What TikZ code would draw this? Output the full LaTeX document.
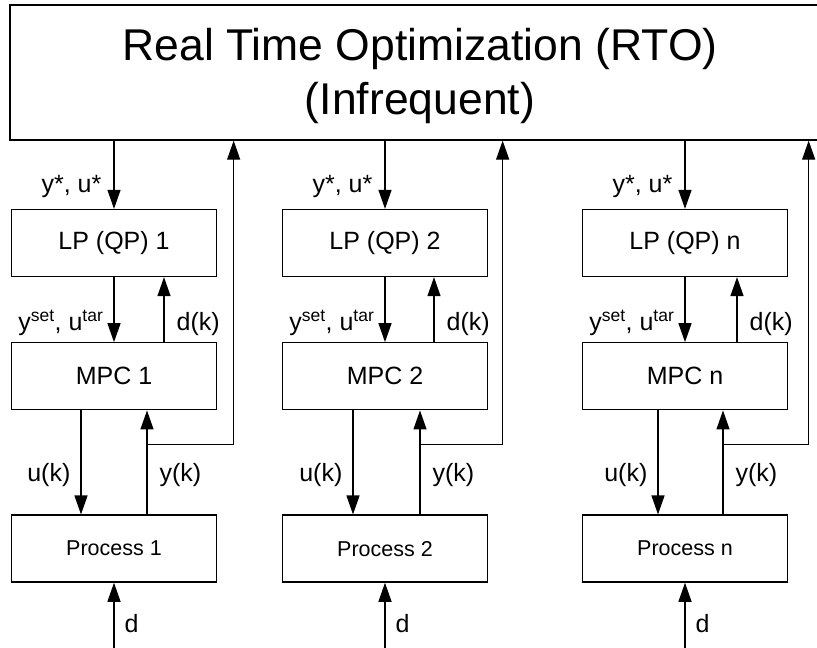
\documentclass[tikz,border=0pt]{standalone}
\usepackage{fontspec}
\setmainfont{Liberation Sans}
\usetikzlibrary{arrows.meta,positioning}

\tikzset{
  block/.style={draw, rectangle, minimum width=205pt, minimum height=67pt, inner sep=0pt,
    font=\fontsize{25}{25}\selectfont},
  lbl/.style={inner sep=0pt, font=\fontsize{25}{25}\selectfont},
}

\begin{document}
\begin{tikzpicture}[>={Triangle[length=19pt,width=13pt]}, x=1pt, y=-1pt, line width=1.3pt]
  \useasboundingbox (0,0) rectangle (817,648);
  \node[block, minimum width=820pt, minimum height=135pt, align=center,
    font=\fontsize{44.5}{54}\selectfont] (rto) at (420,72.5)
    {\rule{0pt}{40pt}Real Time Optimization (RTO)\\(Infrequent)};

  % column 1
  \node[block] (lp1) at (114,243) {LP (QP) 1};
  \node[block] (mpc1) [below=65pt of lp1] {MPC 1};
  \node[block, font=\fontsize{21.5}{21.5}\selectfont] (proc1) [below=104pt of mpc1] {Process 1};
  \coordinate (br1) at ([xshift=33pt,yshift=-34pt]mpc1.south);
  \coordinate (top1) at ([xshift=16.5pt]lp1.east);
  \coordinate (in1) at ([yshift=-67pt]proc1.south);
  \draw[->] (rto.south -| lp1.north) -- node[lbl, left=12pt, pos=0.67] {y*, u*} (lp1.north);
  \draw[->] (lp1.south) -- node[lbl, left=10pt, pos=0.71] {y\textsuperscript{set}, u\textsuperscript{tar}} (mpc1.north);
  \draw[->] ([xshift=50pt]mpc1.north) -- node[lbl, right=12pt, pos=0.28] {d(k)} ([xshift=50pt]lp1.south);
  \draw[->] ([xshift=-33pt]mpc1.south) -- node[lbl, left=10pt, pos=0.625] {u(k)} ([xshift=-33pt]proc1.north);
  \draw[->] ([xshift=33pt]proc1.north) -- node[lbl, right=12pt, pos=0.375] {y(k)} ([xshift=33pt]mpc1.south);
  \draw[->] (br1) -| (top1 |- rto.south);
  \draw[->] (in1) -- node[lbl, right=10pt, pos=0.39] {d} (proc1.south);

  % column 2
  \node[block] (lp2) at (385,243) {LP (QP) 2};
  \node[block] (mpc2) [below=65pt of lp2] {MPC 2};
  \node[block, font=\fontsize{21.5}{21.5}\selectfont] (proc2) [below=104pt of mpc2] {Process 2};
  \coordinate (br2) at ([xshift=35pt,yshift=-34pt]mpc2.south);
  \coordinate (top2) at ([xshift=14.5pt]lp2.east);
  \coordinate (in2) at ([yshift=-67pt]proc2.south);
  \draw[->] (rto.south -| lp2.north) -- node[lbl, left=12pt, pos=0.67] {y*, u*} (lp2.north);
  \draw[->] (lp2.south) -- node[lbl, left=10pt, pos=0.71] {y\textsuperscript{set}, u\textsuperscript{tar}} (mpc2.north);
  \draw[->] ([xshift=49pt]mpc2.north) -- node[lbl, right=12pt, pos=0.28] {d(k)} ([xshift=49pt]lp2.south);
  \draw[->] ([xshift=-32pt]mpc2.south) -- node[lbl, left=10pt, pos=0.625] {u(k)} ([xshift=-32pt]proc2.north);
  \draw[->] ([xshift=35pt]proc2.north) -- node[lbl, right=12pt, pos=0.375] {y(k)} ([xshift=35pt]mpc2.south);
  \draw[->] (br2) -| (top2 |- rto.south);
  \draw[->] (in2) -- node[lbl, right=10pt, pos=0.39] {d} (proc2.south);

  % column n
  \node[block] (lpn) at (685,243) {LP (QP) n};
  \node[block] (mpcn) [below=65pt of lpn] {MPC n};
  \node[block, font=\fontsize{21.5}{21.5}\selectfont] (procn) [below=104pt of mpcn] {Process n};
  \coordinate (brn) at ([xshift=38pt,yshift=-34pt]mpcn.south);
  \coordinate (topn) at ([xshift=20.5pt]lpn.east);
  \coordinate (inn) at ([yshift=-67pt]procn.south);
  \draw[->] (rto.south -| lpn.north) -- node[lbl, left=12pt, pos=0.67] {y*, u*} (lpn.north);
  \draw[->] (lpn.south) -- node[lbl, left=10pt, pos=0.71] {y\textsuperscript{set}, u\textsuperscript{tar}} (mpcn.north);
  \draw[->] ([xshift=52pt]mpcn.north) -- node[lbl, right=12pt, pos=0.28] {d(k)} ([xshift=52pt]lpn.south);
  \draw[->] ([xshift=-27pt]mpcn.south) -- node[lbl, left=10pt, pos=0.625] {u(k)} ([xshift=-27pt]procn.north);
  \draw[->] ([xshift=38pt]procn.north) -- node[lbl, right=12pt, pos=0.375] {y(k)} ([xshift=38pt]mpcn.south);
  \draw[->] (brn) -| (topn |- rto.south);
  \draw[->] (inn) -- node[lbl, right=10pt, pos=0.39] {d} (procn.south);
\end{tikzpicture}
\end{document}
